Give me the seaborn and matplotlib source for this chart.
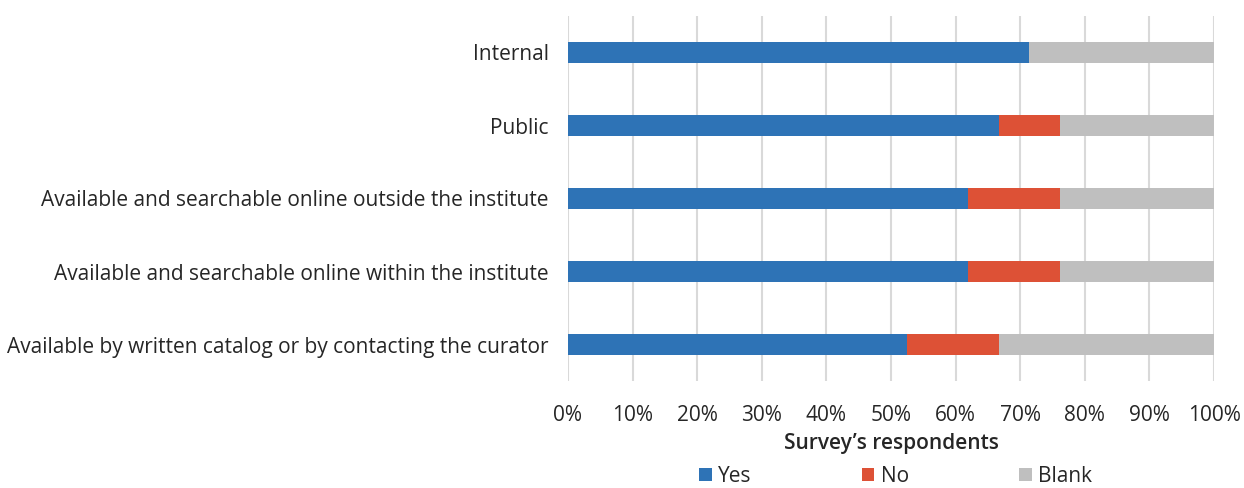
import pandas as pd
import matplotlib.pyplot as plt
import seaborn as sns

# Datos (porcentaje de encuestados)
categorias = [
    "Internal",
    "Public",
    "Available and searchable online outside the institute",
    "Available and searchable online within the institute",
    "Available by written catalog or by contacting the curator",
]
yes = [71.4, 66.7, 61.9, 61.9, 52.4]
no = [0.0, 9.5, 14.3, 14.3, 14.3]
blank = [28.6, 23.8, 23.8, 23.8, 33.3]

df = pd.DataFrame({"categoria": categorias, "Yes": yes, "No": no, "Blank": blank})
df["yes_no"] = df["Yes"] + df["No"]
df["total"] = df["yes_no"] + df["Blank"]

sns.set_style("white")
plt.rcParams["font.family"] = ["Open Sans", "DejaVu Sans"]
plt.rcParams["text.color"] = "#262626"

fig = plt.figure(figsize=(12.44, 4.88), dpi=100)
ax = fig.add_axes([568 / 1244, 1 - 381 / 488, 646 / 1244, 365 / 488])

# Barras apiladas: se dibuja primero el total y encima los acumulados
capas = [("total", "#BFBFBF", "Blank"), ("yes_no", "#DD5136", "No"), ("Yes", "#2E73B6", "Yes")]
for col, color, nombre in capas:
    sns.barplot(data=df, y="categoria", x=col, color=color, width=0.3,
                saturation=1, linewidth=0, label=nombre, ax=ax, zorder=3)
if ax.get_legend() is not None:
    ax.get_legend().remove()

ax.set_xlim(0, 100)
ax.set_xticks(range(0, 101, 10))
ax.set_xticklabels([f"{v}%" for v in range(0, 101, 10)])
ax.xaxis.grid(True, color="#D9D9D9", linewidth=1.5, zorder=0)
ax.yaxis.grid(False)
for s in ax.spines.values():
    s.set_visible(False)
ax.tick_params(axis="both", length=0, labelsize=15, colors="#262626")
ax.tick_params(axis="x", pad=17)
ax.tick_params(axis="y", pad=14)
ax.set_ylabel("")
ax.set_xlabel("Survey\u2019s respondents", fontsize=15, labelpad=5,
              fontweight="semibold")

# Leyenda en orden Yes, No, Blank
h, l = ax.get_legend_handles_labels()
orden = [l.index("Yes"), l.index("No"), l.index("Blank")]
fig.legend([h[i] for i in orden], [l[i] for i in orden], loc="lower center",
           bbox_to_anchor=(0.72, -0.036), ncol=3, frameon=False, fontsize=15,
           handlelength=0.6, handleheight=0.6, handletextpad=0.3,
           columnspacing=5.3)

fig.savefig("out.png", dpi=100)
